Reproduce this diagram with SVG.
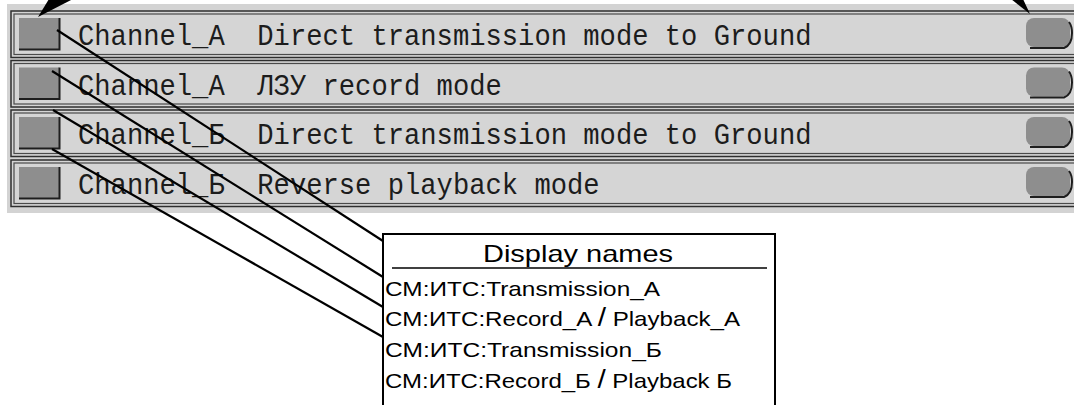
<svg xmlns="http://www.w3.org/2000/svg" width="1074" height="405" viewBox="0 0 1074 405">
<style>
.row-outer{fill:#d5d5d5;stroke:#2e2e2e;stroke-width:1.5}
.row-inner{fill:none;stroke:#4a4a4a;stroke-width:1.2}
.sq{fill:#8e8e8e}
.shadow{fill:none;stroke:#1e1e1e;stroke-width:2}
.mono{font-family:"Liberation Mono","DejaVu Sans Mono",monospace;font-size:29px;fill:#1c1c1c;white-space:pre}
.sans{font-family:"Liberation Sans",Arial,sans-serif;fill:#000}
.conn{stroke:#000;stroke-width:2.2;fill:none}
</style>
<rect x="0" y="0" width="1074" height="405" fill="#fff"/>
<rect x="7" y="4" width="1070" height="209" fill="#d3d3d3"/>

<g id="row1">
<rect class="row-outer" x="11" y="11" width="1075" height="46.5"/>
<rect class="row-inner" x="14" y="14" width="1070" height="40.5"/>
<rect class="sq" x="19" y="18" width="40" height="31"/>
<path class="shadow" d="M59.5 18 V49.5 H19"/>
<text class="mono" x="78" y="45" textLength="733.5" lengthAdjust="spacingAndGlyphs" xml:space="preserve">Channel_A  Direct transmission mode to Ground</text>
<rect class="sq" x="1026" y="18" width="44" height="29" rx="8"/>
<path class="shadow" d="M1069 22 Q1072 26 1072 33 Q1072 45 1064 48 H1030"/>
</g>

<g id="row2">
<rect class="row-outer" x="11" y="60.5" width="1075" height="46.5"/>
<rect class="row-inner" x="14" y="63.5" width="1070" height="40.5"/>
<rect class="sq" x="19" y="67.5" width="40" height="31"/>
<path class="shadow" d="M59.5 67.5 V99 H19"/>
<text class="mono" x="78" y="94.5" textLength="423.8" lengthAdjust="spacingAndGlyphs" xml:space="preserve">Channel_A  ЛЗУ record mode</text>
<rect class="sq" x="1026" y="67.5" width="44" height="29" rx="8"/>
<path class="shadow" d="M1069 71.5 Q1072 75.5 1072 82.5 Q1072 94.5 1064 97.5 H1030"/>
</g>

<g id="row3">
<rect class="row-outer" x="11" y="110" width="1075" height="46.5"/>
<rect class="row-inner" x="14" y="113" width="1070" height="40.5"/>
<rect class="sq" x="19" y="117" width="40" height="31"/>
<path class="shadow" d="M59.5 117 V148.5 H19"/>
<text class="mono" x="78" y="144" textLength="733.5" lengthAdjust="spacingAndGlyphs" xml:space="preserve">Channel_Б  Direct transmission mode to Ground</text>
<rect class="sq" x="1026" y="117" width="44" height="29" rx="8"/>
<path class="shadow" d="M1069 121 Q1072 125 1072 132 Q1072 144 1064 147 H1030"/>
</g>

<g id="row4">
<rect class="row-outer" x="11" y="160" width="1075" height="46.5"/>
<rect class="row-inner" x="14" y="163" width="1070" height="40.5"/>
<rect class="sq" x="19" y="167" width="40" height="31"/>
<path class="shadow" d="M59.5 167 V198.5 H19"/>
<text class="mono" x="78" y="194" textLength="521.6" lengthAdjust="spacingAndGlyphs" xml:space="preserve">Channel_Б  Reverse playback mode</text>
<rect class="sq" x="1026" y="167" width="44" height="29" rx="8"/>
<path class="shadow" d="M1069 171 Q1072 175 1072 182 Q1072 194 1064 197 H1030"/>
</g>

<g id="display-names">
<rect x="383" y="234" width="392" height="180" fill="#fff" stroke="#000" stroke-width="2"/>
<line x1="392" y1="268" x2="767" y2="268" stroke="#000" stroke-width="1.6"/>
<text class="sans" x="483" y="262" font-size="24" textLength="190" lengthAdjust="spacingAndGlyphs">Display names</text>
<text class="sans" x="385" y="296" font-size="21" textLength="275" lengthAdjust="spacingAndGlyphs">СМ:ИТС:Transmission_A</text>
<text class="sans" x="385" y="326" font-size="21" textLength="355" lengthAdjust="spacingAndGlyphs">СМ:ИТС:Record_A <tspan font-size="26">/</tspan> Playback_A</text>
<text class="sans" x="385" y="357" font-size="21" textLength="277" lengthAdjust="spacingAndGlyphs">СМ:ИТС:Transmission_Б</text>
<text class="sans" x="385" y="388" font-size="21" textLength="347" lengthAdjust="spacingAndGlyphs">СМ:ИТС:Record_Б <tspan font-size="26">/</tspan> Playback Б</text>
</g>

<g id="connectors">
<line class="conn" x1="57" y1="30" x2="383" y2="241"/>
<line class="conn" x1="52" y1="71" x2="383" y2="277"/>
<line class="conn" x1="53" y1="110" x2="383" y2="307"/>
<line class="conn" x1="52" y1="149" x2="383" y2="337"/>
<polygon points="38,17 49,-1 73,-1" fill="#000"/>
<polygon points="1030,14 1011,-1 1023,-1" fill="#000"/>
</g>
</svg>
